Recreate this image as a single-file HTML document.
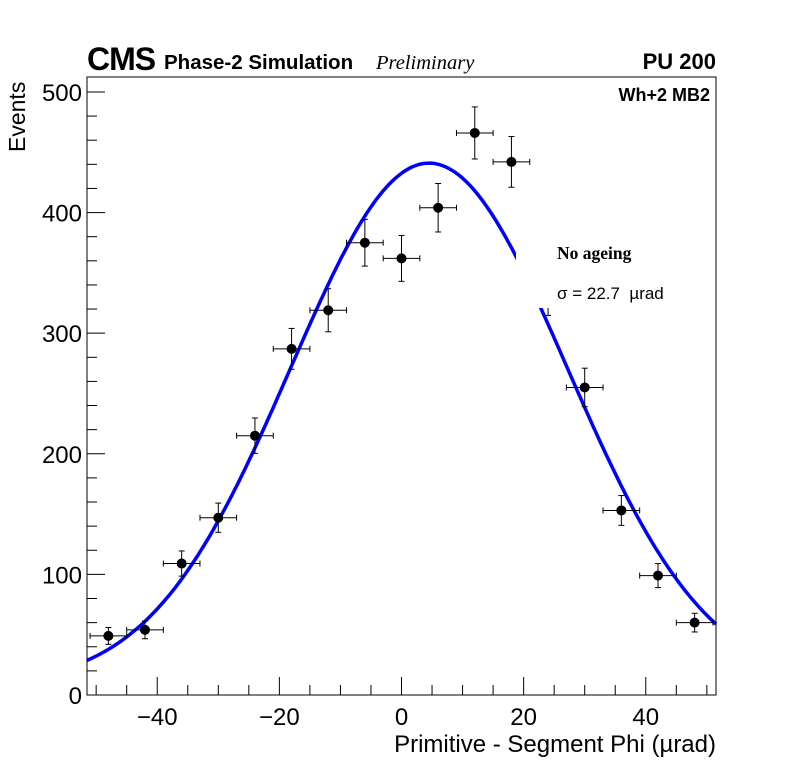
<!DOCTYPE html>
<html><head><meta charset="utf-8"><style>
body{margin:0;background:#fff;}
svg{display:block;font-family:"Liberation Sans",sans-serif;}
</style></head><body>
<svg id="c" width="796" height="772" viewBox="0 0 796 772" xmlns="http://www.w3.org/2000/svg">
<text x="87" y="70" font-size="32" font-weight="bold" letter-spacing="-1">CMS</text>
<text x="164" y="69" font-size="20.5" font-weight="bold">Phase-2 Simulation</text>
<text x="376" y="69" font-size="20.5" font-style="italic" font-family="Liberation Serif,serif">Preliminary</text>
<text x="716" y="69" font-size="22" font-weight="bold" text-anchor="end">PU 200</text>
<text x="710" y="101" font-size="18" font-weight="bold" text-anchor="end">Wh+2 MB2</text>
<text x="25" y="152" font-size="23" text-anchor="start" transform="rotate(-90 25 152)">Events</text>
<text x="716" y="752" font-size="24" text-anchor="end">Primitive - Segment Phi (µrad)</text>
<g id="axes"></g>
<g id="curve"></g>
<g id="pts"></g>
<rect x="516" y="236" width="180" height="72" fill="#fff"/>
<text x="557" y="259" font-size="17.5" font-weight="bold" font-family="Liberation Serif,serif">No ageing</text>
<text x="557" y="299" font-size="17" xml:space="preserve">σ = 22.7  µrad</text>
<rect x="87" y="77" width="629" height="618" fill="none" stroke="#000" stroke-width="1"/>
</svg>
<script>
const binCenters=[-48,-42,-36,-30,-24,-18,-12,-6,0,6,12,18,24,30,36,42,48];
const counts=[49,54,109,147,215,287,319,375,362,404,466,442,333,255,153,99,60];
const xTicks=[-40,-20,0,20,40];
const yTicks=[0,100,200,300,400,500];
const fitAmp=433, fitMean=4.5, fitSigma=22.7, fitConst=8;
const X0=87,X1=716,Y0=695,Y1=77,xmin=-51.5,xmax=51.5,ymin=0,ymax=512.4;
const NS="http://www.w3.org/2000/svg";
const sx=v=>X0+(v-xmin)/(xmax-xmin)*(X1-X0);
const sy=v=>Y0-(v-ymin)/(ymax-ymin)*(Y0-Y1);
function mk(t,a,p){const e=document.createElementNS(NS,t);for(const k in a)e.setAttribute(k,a[k]);p.appendChild(e);return e;}
const ax=document.getElementById('axes');
for(let v=-50;v<=50;v+=5){const big=v%20===0;
const l=mk('line',{x1:sx(v),x2:sx(v),y1:Y0,y2:Y0-(big?18:10),stroke:'#000'},ax);

}
for(let v=0;v<=510;v+=20){const big=v%100===0;
const l=mk('line',{x1:X0,x2:X0+(big?18:10),y1:sy(v),y2:sy(v),stroke:'#000'},ax);

}
xTicks.forEach(v=>{const t=mk('text',{x:sx(v),y:725,'font-size':24,'text-anchor':'middle'},ax);t.textContent=(v<0?'\u2212'+(-v):v);

});
yTicks.forEach(v=>{const t=mk('text',{x:82,y:sy(v)+9,'font-size':24,'text-anchor':'end'},ax);t.textContent=v;

});
let d='';for(let i=0;i<=200;i++){const v=xmin+(xmax-xmin)*i/200;const y=fitConst+fitAmp*Math.exp(-Math.pow(v-fitMean,2)/(2*fitSigma*fitSigma));d+=(i?'L':'M')+sx(v).toFixed(1)+','+sy(y).toFixed(1);}
const cp=mk('path',{d:d,fill:'none',stroke:'#0000ff','stroke-width':3.5},document.getElementById('curve'));


const pg=document.getElementById('pts');
binCenters.forEach((c,i)=>{const n=counts[i],e=Math.sqrt(n);const g=mk('g',{stroke:'#000','stroke-width':1},pg);


mk('line',{x1:sx(c-3),x2:sx(c+3),y1:sy(n),y2:sy(n)},g);
mk('line',{x1:sx(c),x2:sx(c),y1:sy(n-e),y2:sy(n+e)},g);
[c-3,c+3].forEach(v=>mk('line',{x1:sx(v),x2:sx(v),y1:sy(n)-3,y2:sy(n)+3},g));
[n-e,n+e].forEach(v=>mk('line',{x1:sx(c)-3,x2:sx(c)+3,y1:sy(v),y2:sy(v)},g));
mk('circle',{cx:sx(c),cy:sy(n),r:4.5,fill:'#000'},g);});
</script>
</body></html>
